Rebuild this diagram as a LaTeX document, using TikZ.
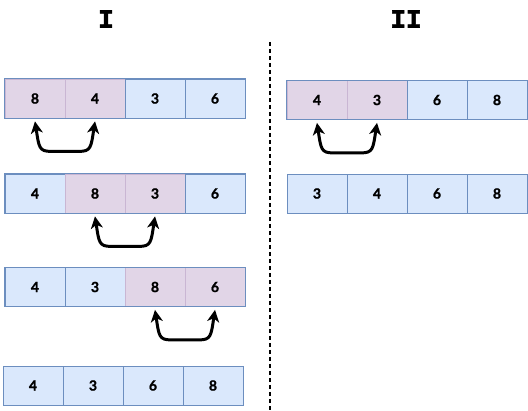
\documentclass[tikz,border=0pt]{standalone}
\usepackage{fontspec}
\setmainfont{Lato}[BoldFeatures={FakeBold=1.2}]
\newfontfamily\headfont{Liberation Mono}[BoldFeatures={FakeBold=2.5}]
\usetikzlibrary{arrows.meta,calc}
\definecolor{bluefill}{HTML}{DAE8FC}
\definecolor{bluedraw}{HTML}{6C8EBF}
\definecolor{pinkfill}{HTML}{E1D5E7}
\definecolor{pinkdraw}{HTML}{C9B6D3}
\tikzset{
  cellb/.style={draw=bluedraw, fill=bluefill, line width=0.8pt, minimum width=60pt, minimum height=39pt, inner sep=0pt, font=\fontsize{14}{14}\selectfont\bfseries, text=black},
  cellp/.style={cellb, draw=pinkdraw, fill=pinkfill},
  rowbox/.style={draw=bluedraw, line width=0.8pt},
  swap/.style={line width=3pt, {Stealth[length=12pt,width=12pt,inset=3.5pt]}-{Stealth[length=12pt,width=12pt,inset=3.5pt]}},
  head/.style={font=\headfont\fontsize{26}{26}\selectfont\bfseries}
}
\begin{document}
\begin{tikzpicture}[x=1pt,y=-1pt]
\useasboundingbox (0,0) rectangle (528,411);
\node[head] (h1) at (106,19) {I};
\node[head] (h2) at (406,19) {II};
\coordinate (dtop) at (270,42);
\coordinate (dbot) at (270,411);
\draw[line width=1.3pt, dash pattern=on 4pt off 3pt] (dtop) -- (dbot);
% Column I
% row 1
\node[cellp] (a1) at (35,98.5) {8};
\node[cellp] (a2) at (95,98.5) {4};
\node[cellb] (a3) at (155,98.5) {3};
\node[cellb] (a4) at (215,98.5) {6};
\draw[rowbox] (a1.north west) rectangle (a4.south east);
% row 2
\node[cellb] (b1) at (35,193.5) {4};
\node[cellp] (b2) at (95,193.5) {8};
\node[cellp] (b3) at (155,193.5) {3};
\node[cellb] (b4) at (215,193.5) {6};
\draw[rowbox] (b1.north west) rectangle (b4.south east);
% row 3
\node[cellb] (c1) at (35,287) {4};
\node[cellb] (c2) at (95,287) {3};
\node[cellp] (c3) at (155,287) {8};
\node[cellp] (c4) at (215,287) {6};
\draw[rowbox] (c1.north west) rectangle (c4.south east);
% row 4
\node[cellb] (d1) at (33,385.5) {4};
\node[cellb] (d2) at (93,385.5) {3};
\node[cellb] (d3) at (153,385.5) {6};
\node[cellb] (d4) at (213,385.5) {8};
% Column II
\node[cellp] (e1) at (317,100) {4};
\node[cellp] (e2) at (377,100) {3};
\node[cellb] (e3) at (437,100) {6};
\node[cellb] (e4) at (497,100) {8};
\draw[rowbox] (e1.north west) rectangle (e4.south east);
\node[cellb] (f1) at (317,193.5) {3};
\node[cellb] (f2) at (377,193.5) {4};
\node[cellb] (f3) at (437,193.5) {6};
\node[cellb] (f4) at (497,193.5) {8};
% swap arrows
\foreach \A/\B in {a1/a2, b2/b3, c3/c4, e1/e2}{
  \draw[swap] ([yshift=-3pt]\A.south) .. controls +(4,26) and +(-12,0) .. ([xshift=16pt,yshift=-33pt]\A.south)
     -- ([xshift=-16pt,yshift=-33pt]\B.south) .. controls +(12,0) and +(-4,26) .. ([yshift=-3pt]\B.south);
}
\end{tikzpicture}
\end{document}
